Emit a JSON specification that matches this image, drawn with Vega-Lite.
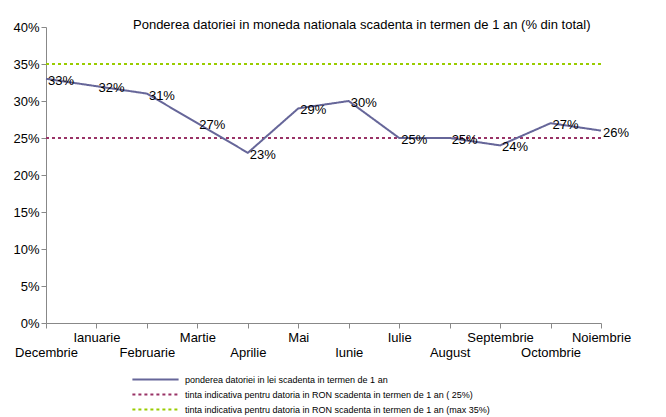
{
  "$schema": "https://vega.github.io/schema/vega-lite/v6.json",
  "autosize": {"type": "none"},
  "width": 555,
  "height": 296,
  "padding": {"left": 46, "top": 27, "right": 65, "bottom": 94},
  "background": "white",
  "config": {
    "view": {"stroke": null},
    "font": "Liberation Sans",
    "axis": {"grid": false, "domainColor": "#888888", "tickColor": "#888888", "labelColor": "#000000", "labelFont": "Liberation Sans", "labelFontSize": 13, "tickSize": 5}
  },
  "title": {
    "text": "Ponderea datoriei in moneda nationala scadenta in termen de 1 an (% din total)",
    "anchor": "start",
    "frame": "group",
    "dx": 87,
    "dy": 15,
    "fontSize": 13,
    "fontWeight": "normal",
    "font": "Liberation Sans",
    "color": "#000000"
  },
  "datasets": {
    "main": [
      {"month": "Decembrie", "value": 0.33, "series": "ponderea datoriei in lei scadenta in termen de 1 an"},
      {"month": "Ianuarie", "value": 0.32, "series": "ponderea datoriei in lei scadenta in termen de 1 an"},
      {"month": "Februarie", "value": 0.31, "series": "ponderea datoriei in lei scadenta in termen de 1 an"},
      {"month": "Martie", "value": 0.27, "series": "ponderea datoriei in lei scadenta in termen de 1 an"},
      {"month": "Aprilie", "value": 0.23, "series": "ponderea datoriei in lei scadenta in termen de 1 an"},
      {"month": "Mai", "value": 0.29, "series": "ponderea datoriei in lei scadenta in termen de 1 an"},
      {"month": "Iunie", "value": 0.30, "series": "ponderea datoriei in lei scadenta in termen de 1 an"},
      {"month": "Iulie", "value": 0.25, "series": "ponderea datoriei in lei scadenta in termen de 1 an"},
      {"month": "August", "value": 0.25, "series": "ponderea datoriei in lei scadenta in termen de 1 an"},
      {"month": "Septembrie", "value": 0.24, "series": "ponderea datoriei in lei scadenta in termen de 1 an"},
      {"month": "Octombrie", "value": 0.27, "series": "ponderea datoriei in lei scadenta in termen de 1 an"},
      {"month": "Noiembrie", "value": 0.26, "series": "ponderea datoriei in lei scadenta in termen de 1 an"}
    ],
    "targets": [
      {"series": "tinta indicativa pentru datoria in RON scadenta in termen de  1 an ( 25%)", "value": 0.25},
      {"series": "tinta indicativa pentru datoria in RON scadenta in termen de  1 an (max 35%)", "value": 0.35}
    ]
  },
  "encoding": {
    "y": {
      "field": "value", "type": "quantitative",
      "scale": {"domain": [0, 0.4], "nice": false},
      "axis": {"title": null, "values": [0, 0.05, 0.1, 0.15, 0.2, 0.25, 0.3, 0.35, 0.4], "tickCount": 9, "format": ".0%", "labelPadding": 2, "labelOverlap": false}
    }
  },
  "layer": [
    {
      "data": {"name": "targets"},
      "mark": {"type": "rule", "strokeWidth": 2},
      "encoding": {
        "color": {"field": "series", "type": "nominal"},
        "strokeDash": {"field": "series", "type": "nominal"}
      }
    },
    {
      "data": {"name": "main"},
      "mark": {"type": "line", "strokeWidth": 2},
      "encoding": {
        "x": {
          "field": "month", "type": "ordinal", "sort": null,
          "scale": {"type": "point", "padding": 0},
          "axis": {
            "title": null, "labelAngle": 0, "labelBaseline": "top", "labelPadding": 3, "labelLineHeight": 15, "labelOverlap": false,
            "labelExpr": "indexof(['Decembrie','Februarie','Aprilie','Iunie','August','Octombrie'], datum.value) >= 0 ? ['', datum.label] : datum.label"
          }
        },
        "color": {
          "field": "series", "type": "nominal",
          "scale": {
            "domain": ["ponderea datoriei in lei scadenta in termen de 1 an", "tinta indicativa pentru datoria in RON scadenta in termen de  1 an ( 25%)", "tinta indicativa pentru datoria in RON scadenta in termen de  1 an (max 35%)"],
            "range": ["#666699", "#993366", "#99CC00"]
          },
          "legend": {
            "title": null, "orient": "none", "legendX": 103, "legendY": 346,
            "symbolType": "M-4.2,0H4.2", "symbolSize": 121, "symbolStrokeWidth": 2,
            "labelFontSize": 9, "labelFont": "Liberation Sans", "labelColor": "#000000", "labelOffset": 23, "rowPadding": 3, "labelLimit": 0
          }
        },
        "strokeDash": {
          "field": "series", "type": "nominal",
          "scale": {
            "domain": ["ponderea datoriei in lei scadenta in termen de 1 an", "tinta indicativa pentru datoria in RON scadenta in termen de  1 an ( 25%)", "tinta indicativa pentru datoria in RON scadenta in termen de  1 an (max 35%)"],
            "range": [[1, 0], [3, 3], [3, 3]]
          }
        }
      }
    },
    {
      "data": {"name": "main"},
      "mark": {"type": "text", "align": "left", "baseline": "middle", "dx": 2, "dy": 2, "fontSize": 13, "font": "Liberation Sans", "color": "#000000"},
      "encoding": {
        "x": {"field": "month", "type": "ordinal", "sort": null},
        "text": {"field": "value", "type": "quantitative", "format": ".0%"},
        "detail": {"field": "series"}
      }
    }
  ]
}
